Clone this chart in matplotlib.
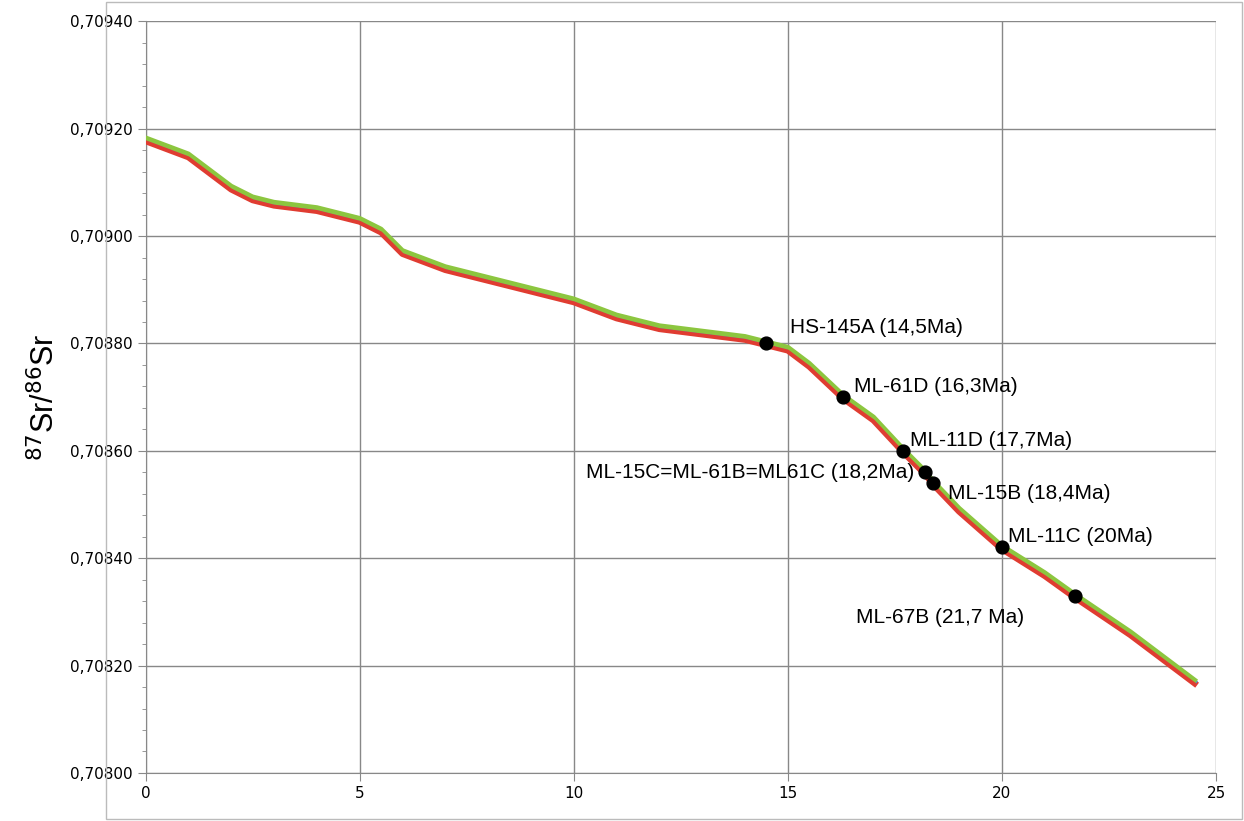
import numpy as np
import matplotlib
matplotlib.use("Agg")
import matplotlib.pyplot as plt
from matplotlib.ticker import MultipleLocator, FuncFormatter

# 87Sr/86Sr curve (age Ma, ratio)
age = [0, 1, 2, 2.5, 3, 4, 5, 5.5, 6, 7, 8, 9, 10, 11, 12, 13, 14, 14.5, 15,
       15.5, 16.3, 17, 17.7, 18.2, 18.4, 19, 20, 21, 21.7, 23, 24.5]
sr = [0.70918, 0.70915, 0.70909, 0.70907, 0.70906, 0.70905, 0.70903, 0.70901,
      0.70897, 0.70894, 0.70892, 0.70890, 0.70888, 0.70885, 0.70883, 0.70882,
      0.70881, 0.70880, 0.70879, 0.70876, 0.70870, 0.70866, 0.70860, 0.70856,
      0.70854, 0.70849, 0.70842, 0.70837, 0.70833, 0.70826, 0.70817]

# samples
s_age = [14.5, 16.3, 17.7, 18.2, 18.4, 20.0, 21.7]
s_sr = [0.70880, 0.70870, 0.70860, 0.70856, 0.70854, 0.70842, 0.70833]
s_lbl = ["HS-145A (14,5Ma)", "ML-61D (16,3Ma)", "ML-11D (17,7Ma)",
         "ML-15C=ML-61B=ML61C (18,2Ma)", "ML-15B (18,4Ma)", "ML-11C (20Ma)",
         "ML-67B (21,7 Ma)"]
lbl_pos = [(15.05, 0.70883), (16.55, 0.70872), (17.85, 0.70862), (17.95, 0.70856),
           (18.75, 0.70852), (20.15, 0.70844), (16.6, 0.70829)]
lbl_ha = ["left", "left", "left", "right", "left", "left", "left"]

fig = plt.figure(figsize=(12.44, 8.21), dpi=100)
ax = fig.add_axes([0.117, 0.0585, 0.8605, 0.9155])
fig.patches.append(plt.Rectangle((0.085, 0.002), 0.913, 0.996, transform=fig.transFigure,
                                 fill=False, edgecolor="#bbbbbb", linewidth=1))

a = np.array(age); s = np.array(sr)
ax.plot(a, s - 0.000003, color="#e03c31", lw=4.5, zorder=3)
ax.plot(a, s, color="#4a90d9", lw=3.5, zorder=3)
ax.plot(a, s + 0.000003, color="#8cc63f", lw=3.5, zorder=3)
ax.plot(a, s - 0.000004, color="#e03c31", lw=2, zorder=3)
ax.scatter(s_age, s_sr, s=85, color="black", zorder=5)
for (tx, ty), t, ha in zip(lbl_pos, s_lbl, lbl_ha):
    ax.text(tx, ty, t, fontsize=15, ha=ha, va="center", family="Liberation Sans")

ax.set_xlim(0, 25)
ax.set_ylim(0.7080, 0.7094)
ax.xaxis.set_major_locator(MultipleLocator(5))
ax.yaxis.set_major_locator(MultipleLocator(0.0002))
ax.yaxis.set_minor_locator(MultipleLocator(0.00004))
ax.yaxis.set_major_formatter(FuncFormatter(lambda v, p: f"{v:.5f}".replace(".", ",")))
ax.grid(True, which="major", color="#888888", linewidth=1)
for sp in ["top", "right"]:
    ax.spines[sp].set_visible(False)
ax.spines["left"].set_color("#888888")
ax.spines["bottom"].set_color("#888888")
ax.tick_params(which="both", direction="out", color="#888888", labelsize=11)
ax.tick_params(which="major", length=6)
ax.tick_params(which="minor", length=3)
ax.set_ylabel(r"$^{87}$Sr/$^{86}$Sr", fontsize=22, family="Liberation Sans", labelpad=6)

fig.savefig("out.png", dpi=100)
